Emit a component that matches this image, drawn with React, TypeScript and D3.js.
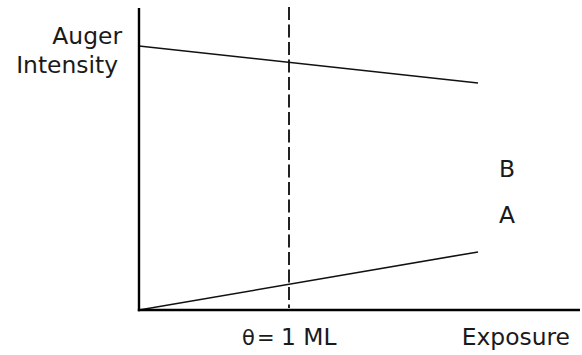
import React from "react";
import * as d3 from "d3";

// Exposure in monolayers (ML), intensities normalised to the clean-surface signal
const exposure = [0, 2.26];
const substrateSignal = [1.0, 0.86]; // B: substrate Auger line, attenuated by the overlayer
const adsorbateSignal = [0.0, 0.22]; // A: adsorbate Auger line, growing with coverage
const monolayerMark = 1;
const axisXMax = 2.94;
const axisYMax = 1.144;

const W = 582;
const H = 355;
const FONT = "'DejaVu Sans', Verdana, sans-serif";

export default function App() {
  const x = d3.scaleLinear().domain([0, 1]).range([139, 289]);
  const y = d3.scaleLinear().domain([0, 1]).range([310, 46]);

  const line = d3
    .line<[number, number]>()
    .x((d) => x(d[0]))
    .y((d) => y(d[1]));

  const bPts = exposure.map((e, i) => [e, substrateSignal[i]] as [number, number]);
  const aPts = exposure.map((e, i) => [e, adsorbateSignal[i]] as [number, number]);

  const fs = 23.4;
  const ink = "#1a1a1a";

  return (
    <svg
      width={W}
      height={H}
      style={{ position: "absolute", left: 0, top: 0, background: "#fff" }}
      fontFamily={FONT}
    >
      {/* monolayer marker */}
      <line
        x1={x(monolayerMark)}
        x2={x(monolayerMark)}
        y1={y(axisYMax) - 1}
        y2={y(0) - 2}
        stroke="#222"
        strokeWidth={2}
        strokeDasharray="13 4.5"
      />
      {/* data lines */}
      <path d={line(bPts) ?? ""} fill="none" stroke="#111" strokeWidth={1.6} />
      <path d={line(aPts) ?? ""} fill="none" stroke="#111" strokeWidth={1.6} />
      {/* axes */}
      <line x1={x(0)} x2={x(0)} y1={y(axisYMax)} y2={y(0) + 1.2} stroke="#000" strokeWidth={2.4} />
      <line x1={x(0) - 1.2} x2={x(axisXMax)} y1={y(0)} y2={y(0)} stroke="#000" strokeWidth={2.4} />

      {/* labels */}
      <text x={122} y={44} textAnchor="end" fontSize={fs} fill={ink}>
        Auger
      </text>
      <text x={118} y={73} textAnchor="end" fontSize={fs} fill={ink}>
        Intensity
      </text>
      <text y={345} fontSize={fs} fill={ink}>
        <tspan x={242} fontSize={21}>θ</tspan>
        <tspan x={257} fontSize={21}>=</tspan>
        <tspan x={281}>1 ML</tspan>
      </text>
      <text x={570} y={345} textAnchor="end" fontSize={fs} fill={ink}>
        Exposure
      </text>
      <text x={499} y={177} fontSize={fs} fill={ink}>
        B
      </text>
      <text x={499} y={223} fontSize={fs} fill={ink}>
        A
      </text>
    </svg>
  );
}
